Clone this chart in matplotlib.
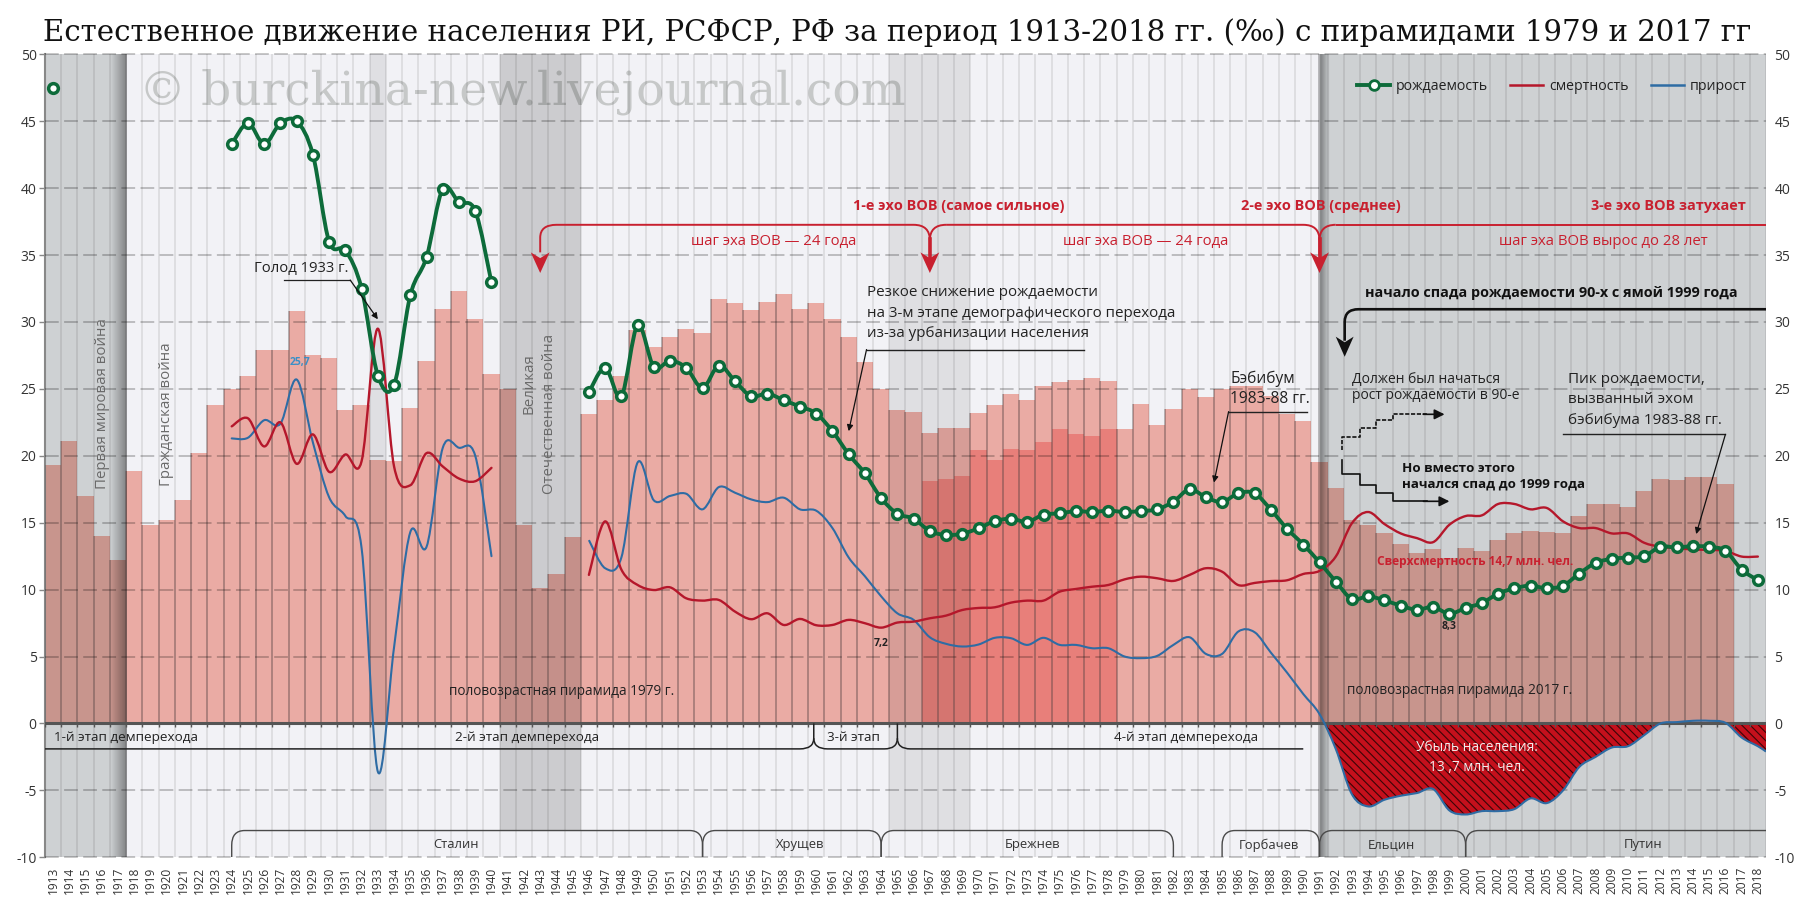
import numpy as np
import matplotlib
matplotlib.use('Agg')
import matplotlib.pyplot as plt
from matplotlib.lines import Line2D
from matplotlib.patches import PathPatch, Polygon, Rectangle
from matplotlib.path import Path

plt.rcParams['font.family'] = ['Open Sans', 'DejaVu Sans']
plt.rcParams['hatch.linewidth'] = 0.8

years = np.arange(1913, 2019)

# age pyramid bars, 1913-2016 (1979 pyramid + 2017 pyramid)
pyramid = [19.3, 21.1, 17.0, 14.0, 12.2, 18.9, 14.8, 15.2, 16.7, 20.2,
           23.8, 25.0, 26.0, 27.9, 27.9, 30.8, 27.5, 27.3, 23.4, 23.8,
           19.7, 19.6, 23.6, 27.1, 31.0, 32.3, 30.2, 26.1, 25.0, 14.8,
           10.1, 11.2, 13.9, 23.1, 24.2, 26.0, 29.4, 28.1, 28.9, 29.5,
           29.2, 31.7, 31.4, 30.9, 31.5, 32.1, 31.0, 31.4, 30.2, 28.9,
           27.0, 25.0, 23.4, 23.3, 21.7, 22.1, 22.1, 23.2, 23.8, 24.6,
           24.2, 25.2, 25.5, 25.7, 25.8, 25.6, 22.0, 23.9, 22.3, 23.5,
           25.0, 24.4, 25.0, 25.2, 25.2, 24.5, 23.1, 22.6, 19.5, 17.6,
           15.2, 14.8, 14.2, 13.4, 12.7, 13.0, 12.4, 13.1, 12.9, 13.7,
           14.2, 14.4, 14.3, 14.2, 15.5, 16.4, 16.4, 16.2, 17.4, 18.3,
           18.2, 18.4, 18.4, 17.9]
# darker inner bars 1967-1978
inner = [18.1, 18.3, 18.5, 20.4, 19.7, 20.5, 20.4, 21.0, 22.0, 21.6, 21.5, 22.0]

birth_1913 = 47.5
birth_a = [43.3, 44.85, 43.3, 44.85, 45.0, 42.5, 36.0, 35.35, 32.5, 26.0, 25.3,
           32.0, 34.85, 39.95, 38.95, 38.3, 32.95]  # 1924-1940
birth_b = [24.75, 26.57, 24.45, 29.75,
           26.64, 27.1, 26.57, 25.07, 26.74, 25.57, 24.45, 24.65, 24.15, 23.68,
           23.16, 21.84, 20.12, 18.68, 16.84, 15.67, 15.3, 14.38, 14.08, 14.18,
           14.58, 15.12, 15.3, 15.07, 15.6, 15.7, 15.87, 15.8, 15.9, 15.8,
           15.87, 16.0, 16.57, 17.5, 16.9, 16.55, 17.2, 17.2, 15.98, 14.55,
           13.37, 12.04, 10.6, 9.3, 9.5, 9.2, 8.8, 8.5, 8.7, 8.2,
           8.63, 9.0, 9.7, 10.1, 10.3, 10.1, 10.3, 11.2, 12.0, 12.3,
           12.4, 12.5, 13.2, 13.15, 13.25, 13.2, 12.9, 11.5, 10.7]  # 1946-2018

death_a = [22.2, 22.8, 20.7, 22.5, 19.4, 21.6, 18.8, 20.1, 19.6, 29.5, 19.2,
           17.8, 20.2, 19.2, 18.3, 18.1, 19.1]
death_b = [11.1, 15.1, 11.5, 10.35,
           9.97, 10.17, 9.35, 9.18, 9.23, 8.36, 7.79, 8.23, 7.36, 7.81,
           7.34, 7.36, 7.74, 7.49, 7.16, 7.54, 7.61, 7.86, 8.06, 8.48,
           8.63, 8.68, 9.03, 9.18, 9.18, 9.85, 10.05, 10.22, 10.35, 10.77,
           10.97, 10.85, 10.65, 11.1, 11.6, 11.34, 10.34, 10.5, 10.64, 10.7,
           11.17, 11.4, 12.47, 14.97, 15.8, 14.9, 14.2, 13.85, 13.55, 14.85,
           15.5, 15.55, 16.4, 16.4, 16.0, 16.1, 15.1, 14.6, 14.6, 14.2,
           14.2, 13.5, 13.2, 13.1, 13.0, 12.97, 12.9, 12.47, 12.47]

growth_a = [21.3, 21.35, 22.66, 22.4, 25.7, 21.0, 16.9, 15.5, 13.1, -3.6, 5.7,
            14.3, 13.2, 20.6, 20.6, 20.0, 12.5]
growth_b = [13.7, 11.6, 12.4, 19.5,
            16.67, 17.0, 17.16, 16.0, 17.66, 17.24, 16.74, 16.54, 16.87, 16.0,
            15.9, 14.6, 12.4, 11.0, 9.5, 8.23, 7.74, 6.44, 5.95, 5.75,
            5.9, 6.4, 6.37, 5.87, 6.4, 5.87, 5.87, 5.62, 5.62, 5.0,
            4.88, 5.05, 5.87, 6.44, 5.2, 5.2, 6.87, 6.82, 5.3, 3.8,
            2.2, 0.7, -1.9, -5.3, -6.2, -5.7, -5.4, -5.2, -4.9, -6.5,
            -6.8, -6.55, -6.55, -6.4, -5.6, -5.95, -5.0, -3.25, -2.5, -1.8,
            -1.7, -0.87, 0.0, 0.1, 0.2, 0.2, 0.05, -1.05, -1.7]
growth_edge = -2.1  # where the growth line leaves the plot at the right edge

rulers = ['Сталин', 'Хрущев', 'Брежнев', 'Горбачев', 'Ельцин', 'Путин']
ruler_spans = [(1924, 1953), (1953, 1964), (1964, 1982), (1985, 1991), (1991, 2000), (2000, 2021)]
ruler_text_x = [1937.8, 1959, 1973.3, 1987.9, 1995.4, 2010.9]

GREEN = '#0d6b3a'
RED = '#b5172b'
TEXT_RED = '#c8202f'
BLUE = '#2e6ca4'
GREY = '#4a4a4a'

years_a = np.arange(1924, 1941)
years_b = np.arange(1946, 2019)


def smooth_path(xs, ys):
    '''Excel style smoothed line as bezier segments through the data points'''
    p = np.column_stack([xs, ys]).astype(float)
    verts = [p[0]]
    codes = [Path.MOVETO]
    for i in range(len(p) - 1):
        before = p[max(i - 1, 0)]
        after = p[min(i + 2, len(p) - 1)]
        verts += [p[i] + (p[i + 1] - before) / 6, p[i + 1] - (after - p[i]) / 6, p[i + 1]]
        codes += [Path.CURVE4] * 3
    return verts, codes


def smooth_line(xs, ys, color, lw, z):
    verts, codes = smooth_path(xs, ys)
    ax.add_patch(PathPatch(Path(verts, codes), fill=False, edgecolor=color, lw=lw, zorder=z,
                           capstyle='round', joinstyle='round'))


def curve(points, color, lw, z=8):
    '''points: path made of lines, with rounded corners given as (corner, end) pairs'''
    verts = [points[0]]
    codes = [Path.MOVETO]
    for pt in points[1:]:
        if len(pt) == 2 and isinstance(pt[0], tuple):
            verts += [pt[0], pt[1]]
            codes += [Path.CURVE3, Path.CURVE3]
        else:
            verts.append(pt)
            codes.append(Path.LINETO)
    ax.add_patch(PathPatch(Path(verts, codes), fill=False, edgecolor=color, lw=lw, zorder=z))


def barbed_arrow(x, top, tip, color, half=0.58):
    notch = top - (top - tip) * 0.28
    ax.add_patch(Polygon([(x, tip), (x - half, top), (x, notch), (x + half, top)],
                         closed=True, facecolor=color, edgecolor='none', zorder=8))


def brace(x0, x1, y_line, y_end, lw=1.0, color=GREY):
    # bracket with rounded ends: vertical at x0, horizontal at y_line, vertical at x1
    mid = y_line + (y_end - y_line) * 0.55
    curve([(x0, y_end), (x0, mid), ((x0, y_line), (x0 + 0.8, y_line)),
           (x1 - 0.8, y_line), ((x1, y_line), (x1, mid)), (x1, y_end)], color, lw)


def small_arrow(xy_from, xy_to, lw=0.9, scale=9):
    ax.annotate('', xy=xy_to, xytext=xy_from, zorder=8,
                arrowprops=dict(arrowstyle='-|>', lw=lw, color='#111111', shrinkA=0, shrinkB=0,
                                mutation_scale=scale))


fig = plt.figure(figsize=(17.97, 9.0), dpi=100, facecolor='white')
ax = fig.add_axes([45 / 1797, (900 - 857.3) / 900, (1766 - 45) / 1797, (857.3 - 54.3) / 900])
ax.set_facecolor('#f2f2f6')

# bars
pyr_years = years[:len(pyramid)]
ax.bar(pyr_years, pyramid, width=1.0, color='#eaaba4', zorder=1, linewidth=0)
ax.bar(np.arange(1967, 1979), inner, width=1.0, color='#e87f7a', zorder=1.1, linewidth=0)

# shaded periods, dark with alpha so that the bars below get darker too
for x0, x1, y0, alpha, shade in [(1912.5, 1917.5, -10, 0.145, '#00150a'), (1932.5, 1933.5, -8, 0.075, 'black'),
                                 (1940.5, 1945.5, -8, 0.155, 'black'), (1964.5, 1969.5, -8, 0.08, 'black'),
                                 (1991.0, 2018.5, -10, 0.145, '#00150a')]:
    ax.add_patch(Rectangle((x0, y0), x1 - x0, 50 - y0, facecolor=shade, alpha=alpha,
                           edgecolor='none', zorder=2))
grad = np.zeros((1, 60, 4))
grad[0, :, 3] = np.linspace(0.0, 0.38, 60)
ax.imshow(grad, extent=(1916.5, 1917.5, -10, 50), aspect='auto', zorder=2.1, interpolation='bilinear')
grad = np.zeros((1, 60, 4))
grad[0, :, 3] = np.concatenate([np.linspace(0.22, 0.36, 15), np.linspace(0.36, 0.0, 45)])
ax.imshow(grad, extent=(1990.9, 1991.6, -10, 50), aspect='auto', zorder=2.1, interpolation='bilinear')

# watermark
ax.text(1918.3, 47.2, '© burckina-new.livejournal.com', family='DejaVu Serif', fontsize=33.9,
        color='#c6c8c8', va='center', ha='left', zorder=1.5)

# vertical separators, stronger over the bars
edges = np.arange(1912.5, 2019.5)
ax.vlines(edges, -10, 50, color='black', alpha=0.09, lw=1.3, zorder=2.5)
ax.vlines(pyr_years - 0.5, 0, pyramid, color='#5a4a4a', alpha=0.33, lw=1.4, zorder=2.6)

# horizontal grid
for v in range(-10, 51, 5):
    if v != 0:
        ax.axhline(v, color='black', alpha=0.28, lw=1.1, dashes=(9, 3.5), zorder=3, clip_on=False)

# population loss area
verts, codes = smooth_path(np.append(years_b[45:], 2018.5), growth_b[45:] + [growth_edge])
verts = verts + [(2018.5, 0), (1991, 0), verts[0]]
codes = codes + [Path.LINETO, Path.LINETO, Path.CLOSEPOLY]
area = PathPatch(Path(verts, codes), facecolor='#c4101c', edgecolor='#3a0508', hatch='\\\\\\\\',
                 lw=0, zorder=3.5)
ax.add_patch(area)
area.set_clip_path(Rectangle((1912.5, -10), 106, 10, transform=ax.transData))

# zero line with small ticks
ax.axhline(0, color='#555555', lw=2.2, zorder=4)
ax.vlines(edges, -0.28, 0, color='#555555', lw=1.0, zorder=4)

# series
smooth_line(years_a, growth_a, BLUE, 1.5, 5)
verts, codes = smooth_path(np.append(years_b, 2018.5), growth_b + [growth_edge])
ax.add_patch(PathPatch(Path(verts, codes), fill=False, edgecolor=BLUE, lw=1.5, zorder=5))
smooth_line(years_a, death_a, RED, 1.7, 6)
smooth_line(years_b, death_b, RED, 1.7, 6)
smooth_line(years_a, birth_a, GREEN, 2.8, 7)
smooth_line(years_b, birth_b, GREEN, 2.8, 7)
marker_style = dict(ls='none', marker='o', ms=7.0, mfc='white', mec=GREEN, mew=2.5, zorder=7.5)
ax.plot(years_a, birth_a, **marker_style)
ax.plot(years_b, birth_b, **marker_style)
ax.plot([1913], [birth_1913], **marker_style)

# echo connectors
curve([(1943, 35.2), (1943, 36.3), ((1943, 37.26), (1944, 37.26)), (1966, 37.26),
       ((1967, 37.26), (1967, 36.1)), (1967, 35.0)], TEXT_RED, 1.4)
curve([(1968, 37.26), ((1967, 37.26), (1967, 36.1))], TEXT_RED, 1.4)
curve([(1968, 37.26), (1990, 37.26), ((1991, 37.26), (1991, 36.1)), (1991, 35.0)], TEXT_RED, 1.4)
curve([(1992, 37.26), ((1991, 37.26), (1991, 36.1))], TEXT_RED, 1.4)
curve([(1992, 37.26), (2018.5, 37.26)], TEXT_RED, 1.4)
ax.plot([1967, 1967], [36.2, 34.8], color=TEXT_RED, lw=2.6, zorder=8)
ax.plot([1991, 1991], [36.2, 34.8], color=TEXT_RED, lw=2.6, zorder=8)
for x in (1943, 1967, 1991):
    barbed_arrow(x, 35.2, 33.66, TEXT_RED)

red_bold = dict(color=TEXT_RED, fontsize=10.45, fontweight='bold', ha='center', va='center', zorder=9)
red_thin = dict(color=TEXT_RED, fontsize=10.7, ha='center', va='center', zorder=9)
ax.text(1968.8, 38.68, '1-е эхо ВОВ (самое сильное)', **red_bold)
ax.text(1991.1, 38.68, '2-е эхо ВОВ (среднее)', **red_bold)
ax.text(2012.5, 38.68, '3-е эхо ВОВ затухает', **red_bold)
ax.text(1957.4, 36.0, 'шаг эха ВОВ — 24 года', **red_thin)
ax.text(1980.3, 36.0, 'шаг эха ВОВ — 24 года', **red_thin)
ax.text(2008.5, 36.0, 'шаг эха ВОВ вырос до 28 лет', **red_thin)
ax.text(2000.6, 12.07, 'Сверхсмертность 14,7 млн. чел.', color=TEXT_RED, fontsize=8.6, fontweight='bold',
        ha='center', va='center', zorder=9)

# black arrow of the 90s decline
ax.text(2005.3, 32.14, 'начало спада рождаемости 90-х с ямой 1999 года', fontsize=10.4, fontweight='bold',
        color='#111111', ha='center', va='center', zorder=9)
curve([(2018.5, 30.95), (1993.4, 30.95), ((1992.55, 30.95), (1992.55, 30.0)), (1992.55, 28.6)], '#111111', 1.9)
barbed_arrow(1992.55, 28.9, 27.4, '#111111', half=0.55)

# notes
note = dict(color='#222222', va='center', ha='left', zorder=9)
ax.text(1928.3, 34.0, 'Голод 1933 г.', fontsize=10.7, color='#222222', ha='center', va='center', zorder=9)
ax.plot([1927.2, 1931.3], [33.13, 33.13], color='#222222', lw=0.9, zorder=8)
small_arrow((1931.3, 33.13), (1933.0, 30.2))
ax.text(1928.2, 27.0, '25,7', color='#3a8fc7', fontsize=7.5, fontweight='bold', ha='center', va='center', zorder=9)
ax.text(1964, 5.97, '7,2', color='#222222', fontsize=7.5, fontweight='bold', ha='center', va='center', zorder=9)
ax.text(1999, 7.25, '8,3', color='#222222', fontsize=7.5, fontweight='bold', ha='center', va='center', zorder=9)

for txt, y in [('Резкое снижение рождаемости', 32.2), ('на 3-м этапе демографического перехода', 30.65),
               ('из-за урбанизации населения', 29.15)]:
    ax.text(1963.1, y, txt, fontsize=10.9, **note)
ax.plot([1963.1, 1976.5], [27.94, 27.94], color='#222222', lw=1.0, zorder=8)
small_arrow((1963.1, 27.94), (1962.0, 21.84))

ax.text(1985.5, 25.72, 'Бэбибум', fontsize=11.2, **note)
ax.text(1985.5, 24.23, '1983-88 гг.', fontsize=11.2, **note)
ax.plot([1985.4, 1990.2], [23.3, 23.3], color='#222222', lw=1.0, zorder=8)
small_arrow((1985.4, 23.3), (1984.5, 18.0))

ax.text(1993, 25.72, 'Должен был начаться', fontsize=10, **note)
ax.text(1993, 24.5, 'рост рождаемости в 90-е', fontsize=10, **note)
ax.plot([1992.4, 1992.4, 1993.5, 1993.5, 1994.5, 1994.5, 1995.5, 1995.5, 1997.6],
        [20.45, 21.4, 21.4, 22.1, 22.1, 22.64, 22.64, 23.1, 23.1],
        color='#111111', lw=1.2, ls=(0, (2.5, 1)), zorder=8)
small_arrow((1997.4, 23.1), (1998.7, 23.1), lw=1.2, scale=15)
ax.plot([1992.4, 1992.4, 1993.5, 1993.5, 1994.5, 1994.5, 1995.5, 1995.5, 1997.6],
        [19.65, 18.66, 18.66, 17.8, 17.8, 17.2, 17.2, 16.6, 16.6], color='#111111', lw=1.2, zorder=8)
small_arrow((1997.4, 16.6), (1999.0, 16.6), lw=1.2, scale=15)
ax.text(1996.06, 19.08, 'Но вместо этого', fontweight='bold', fontsize=9.6, **{**note, 'color': '#111111'})
ax.text(1996.06, 17.9, 'начался спад до 1999 года', fontweight='bold', fontsize=9.6, **{**note, 'color': '#111111'})

for txt, y in [('Пик рождаемости,', 25.72), ('вызванный эхом', 24.18), ('бэбибума 1983-88 гг.', 22.64)]:
    ax.text(2006.3, y, txt, fontsize=11, **note)
ax.plot([2006.0, 2016.0], [21.6, 21.6], color='#222222', lw=1.0, zorder=8)
small_arrow((2016.0, 21.6), (2014.2, 14.15))

ax.text(1944.3, 2.37, 'половозрастная пирамида 1979 г.', color='#222222', fontsize=9.85, ha='center', va='center', zorder=9)
ax.text(1999.6, 2.43, 'половозрастная пирамида 2017 г.', color='#222222', fontsize=9.85, ha='center', va='center', zorder=9)
ax.text(2000.7, -1.8, 'Убыль населения:', color='#f4eaea', fontsize=9.9, ha='center', va='center', zorder=9)
ax.text(2000.7, -3.3, '13 ,7 млн. чел.', color='#f4eaea', fontsize=9.9, ha='center', va='center', zorder=9)

# wars, rotated labels
war = dict(rotation=90, color='#6a6a6a', fontsize=10.8, ha='center', va='center', zorder=9)
ax.text(1916.05, 23.9, 'Первая мировая война', **war)
ax.text(1920.0, 23.1, 'Гражданская война', **war)
ax.text(1942.3, 25.4, 'Великая', **war)
ax.text(1943.55, 23.1, 'Отечественная война', **war)

# stages of the demographic transition
curve([(1912.5, -1.9), (1959, -1.9), ((1959.85, -1.9), (1959.85, -1.1)), (1959.85, 0)], '#222222', 1.1)
curve([(1959.85, -1.1), ((1959.85, -1.9), (1960.7, -1.9)), (1964.2, -1.9),
       ((1965, -1.9), (1965, -1.1)), (1965, 0)], '#222222', 1.1)
curve([(1965, -1.1), ((1965, -1.9), (1965.8, -1.9)), (1990, -1.9)], '#222222', 1.1)
stage = dict(color='#222222', fontsize=9.7, ha='center', va='center', zorder=9)
ax.text(1917.46, -1.05, '1-й этап демперехода', **stage)
ax.text(1942.2, -1.05, '2-й этап демперехода', **stage)
ax.text(1962.3, -1.05, '3-й этап', **stage)
ax.text(1982.8, -1.05, '4-й этап демперехода', **stage)

# rulers
for name, (x0, x1), tx in zip(rulers, ruler_spans, ruler_text_x):
    brace(x0, x1, -8.0, -10.0)
    ax.text(tx, -9.08, name, color='#333333', fontsize=9.4, ha='center', va='center', zorder=9)

# legend
handles = [Line2D([0], [0], color=GREEN, lw=2.8, marker='o', ms=7, mfc='white', mec=GREEN, mew=2),
           Line2D([0], [0], color=RED, lw=1.8), Line2D([0], [0], color=BLUE, lw=1.8)]
leg = ax.legend(handles, ['рождаемость', 'смертность', 'прирост'], ncol=3, frameon=False, fontsize=10.2,
                loc='center left', bbox_to_anchor=(1993.3, 47.6), bbox_transform=ax.transData,
                handlelength=2.35, handletextpad=0.42, columnspacing=1.55, borderpad=0, borderaxespad=0,
                labelcolor='#222222', numpoints=1)
leg.set_zorder(9)

# axes
ax.set_xlim(1912.5, 2018.5)
ax.set_ylim(-10, 50)
ax.set_xticks(years)
ax.set_xticklabels([str(y) for y in years], rotation=90, fontsize=8.6, color='#333333')
ax.set_yticks(range(-10, 51, 5))
ax.set_yticklabels([str(v) for v in range(-10, 51, 5)], fontsize=10, color='#333333')
ax.tick_params(axis='x', length=0, pad=7)
ax.tick_params(axis='y', length=4, width=1, color='#888888', pad=2, right=False, labelright=True)
for side in ['top', 'right', 'bottom']:
    ax.spines[side].set_visible(False)
ax.spines['left'].set_color('#888888')
ax.spines['left'].set_linewidth(1.5)

fig.text(43 / 1797, 1 - 33 / 900, 'Естественное движение населения РИ, РСФСР, РФ за период 1913-2018 гг. (‰) с пирамидами 1979 и 2017 гг',
         family='DejaVu Serif', fontsize=21.05, color='#111111', va='center', ha='left')

fig.savefig('out.png', dpi=100)
